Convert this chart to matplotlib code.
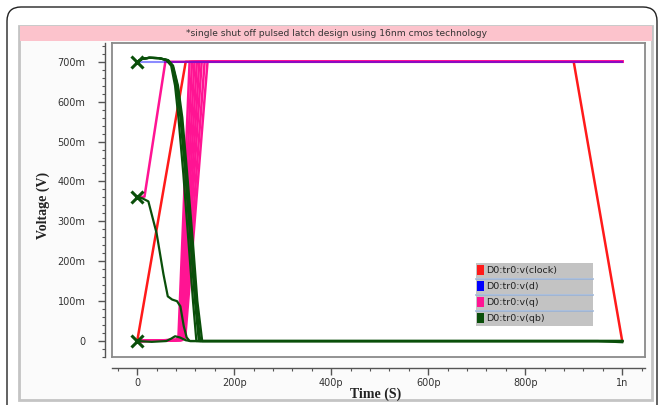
import matplotlib
matplotlib.use("Agg")
import matplotlib.pyplot as plt
from matplotlib.patches import Rectangle, FancyBboxPatch
from matplotlib.transforms import IdentityTransform
from matplotlib.ticker import MultipleLocator

# time in ps, voltage in mV
clock_t = [0, 100, 900, 1000]
clock_v = [0, 700, 700, 0]

d_t = [0, 1000]
d_v = [700, 700]

q_runs_t = [
    [0, 15, 58, 1000],
    [0, 80, 85, 108, 1000],
    [0, 82, 87, 113, 1000],
    [0, 84, 89, 118, 1000],
    [0, 86, 91, 123, 1000],
    [0, 88, 93, 128, 1000],
    [0, 89, 95, 133, 1000],
    [0, 90, 97, 139, 1000],
    [0, 92, 99, 145, 1000],
]
q_runs_v = [
    [360, 362, 700, 700],
    [0, 2, 10, 700, 700],
    [0, 3, 12, 700, 700],
    [0, 3, 12, 700, 700],
    [0, 3, 12, 700, 700],
    [0, 3, 12, 700, 700],
    [0, 2, 10, 700, 700],
    [0, 2, 10, 700, 700],
    [0, 2, 8, 700, 700],
]

qb_runs_t = [
    [0, 10, 25, 45, 60, 70, 78, 85, 95, 105, 115, 122, 1000],
    [0, 10, 25, 45, 62, 72, 81, 89, 99, 109, 119, 127, 1000],
    [0, 10, 25, 45, 63, 73, 83, 91, 101, 111, 121, 130, 1000],
    [0, 10, 25, 45, 64, 74, 84, 93, 103, 114, 124, 134, 1000],
    [0, 10, 23, 40, 54, 63, 72, 82, 89, 96, 102, 108, 1000],
    [0, 30, 60, 70, 78, 88, 100, 110, 950, 1000],
]
qb_runs_v = [
    [700, 707, 710, 709, 704, 690, 640, 560, 420, 260, 100, 0, 0],
    [700, 707, 710, 709, 704, 690, 640, 560, 420, 260, 100, 0, 0],
    [700, 707, 710, 709, 704, 690, 640, 560, 420, 260, 100, 0, 0],
    [700, 707, 710, 709, 704, 690, 640, 560, 420, 260, 100, 0, 0],
    [360, 358, 350, 270, 168, 112, 104, 100, 87, 37, 9, 0, 0],
    [0, -2, 0, 6, 12, 9, 2, 0, 0, -3],
]
start_v = [700, 360, 0]

y_ticks = [0, 100, 200, 300, 400, 500, 600, 700]
y_labels = ["0", "100m", "200m", "300m", "400m", "500m", "600m", "700m"]
x_ticks = [0, 200, 400, 600, 800, 1000]
x_labels = ["0", "200p", "400p", "600p", "800p", "1n"]

names = ["D0:tr0:v(clock)", "D0:tr0:v(d)", "D0:tr0:v(q)", "D0:tr0:v(qb)"]
colors = ["#ff1a1a", "#0000ff", "#ff1493", "#0a4f0a"]

W, H = 658, 405
fig = plt.figure(figsize=(W / 100, H / 100), dpi=100)
fig.patch.set_facecolor("white")
pix = IdentityTransform()

def px(x0, y0, x1, y1):
    # pixel box (top-left origin) -> figure fraction rect
    return [x0 / W, 1 - y1 / H, (x1 - x0) / W, (y1 - y0) / H]

# outer rounded frame and grey panel (behind the axes)
fig.patches.append(FancyBboxPatch((7, -40), 650, 40 + H - 7, boxstyle="round,pad=0,rounding_size=14",
                                  transform=pix, facecolor="white", edgecolor="#222222", lw=1.0, zorder=-10))
fig.patches.append(Rectangle((19, H - 400), 633, 400 - 26, transform=pix,
                             facecolor="#fbfbfb", edgecolor="#c4c4c4", lw=2, zorder=-9))
fig.patches.append(Rectangle((20, H - 41), 632, 15, transform=pix,
                             facecolor="#fcc3cc", edgecolor="none", zorder=-8))
fig.text(336 / W, 1 - 33.5 / H, "*single shut off pulsed latch design using 16nm cmos technology",
         ha="center", va="center", fontsize=6.6, color="#333333")

ax = fig.add_axes(px(112, 43, 645, 357))
ax.set_facecolor("white")
for s in ax.spines.values():
    s.set_color("#8a8a8a")
    s.set_linewidth(1.3)
ax.set_xticks([])
ax.set_yticks([])
xlim = (-52, 1047)
ylim = (-40, 747)
ax.set_xlim(*xlim)
ax.set_ylim(*ylim)

ax.plot(clock_t, clock_v, color=colors[0], lw=1.8, zorder=2)
for t, v in zip(q_runs_t, q_runs_v):
    ax.plot(t, v, color=colors[2], lw=1.8, zorder=3)
ax.plot(d_t, d_v, color=colors[1], lw=1.5, alpha=0.45, zorder=4)
for t, v in zip(qb_runs_t, qb_runs_v):
    ax.plot(t, v, color=colors[3], lw=1.6, zorder=5)
ax.plot([0] * len(start_v), start_v, "x", color=colors[3], ms=8, mew=2.2, zorder=6, clip_on=False)

# rulers
rl = fig.add_axes(px(112, 43, 645, 357))
rl.patch.set_visible(False)
rl.set_xlim(*xlim)
rl.set_ylim(*ylim)
rl.spines["top"].set_visible(False)
rl.spines["right"].set_visible(False)
rl.spines["left"].set_position(("outward", 5))
rl.spines["bottom"].set_position(("outward", 8))
for k in ["left", "bottom"]:
    rl.spines[k].set_color("#555555")
    rl.spines[k].set_linewidth(1.0)
rl.set_yticks(y_ticks)
rl.set_yticklabels(y_labels)
rl.set_xticks(x_ticks)
rl.set_xticklabels(x_labels)
rl.yaxis.set_minor_locator(MultipleLocator(20))
rl.xaxis.set_minor_locator(MultipleLocator(40))
rl.tick_params(which="major", length=5, width=1, color="#555555", labelsize=7, labelcolor="#333333")
rl.tick_params(which="minor", length=2.5, width=0.8, color="#555555")
rl.tick_params(axis="y", which="major", pad=9)
rl.tick_params(axis="x", which="major", pad=2)

fig.text(43 / W, 1 - 205 / H, "Voltage (V)", rotation=90, ha="center", va="center",
         fontsize=10, fontweight="bold", family="Liberation Serif", color="#222222")
fig.text(376 / W, 1 - 394 / H, "Time (S)", ha="center", va="center",
         fontsize=10, fontweight="bold", family="Liberation Serif", color="#222222")

# legend (drawn above the axes)
lx0, lx1, ly0, rh = 476, 593, 263, 16
for i, (n, c) in enumerate(zip(names, colors)):
    top = ly0 + i * rh
    fig.patches.append(Rectangle((lx0, H - top - rh + 1), lx1 - lx0, rh - 1, transform=pix,
                                 facecolor="#c3c3c3", edgecolor="none", zorder=10))
    fig.patches.append(Rectangle((lx0 + 1, H - top - 12), 7, 10, transform=pix,
                                 facecolor=c, edgecolor="none", zorder=11))
    fig.text((lx0 + 10) / W, 1 - (top + 7.5) / H, n, ha="left", va="center", fontsize=6.8,
             color="#222222", zorder=12)
    if i > 0:
        fig.lines.append(plt.Line2D([lx0, lx1], [H - top, H - top], transform=pix,
                                    color="#9bb3d6", lw=1.2, zorder=11))

fig.savefig("out.png", dpi=100)
